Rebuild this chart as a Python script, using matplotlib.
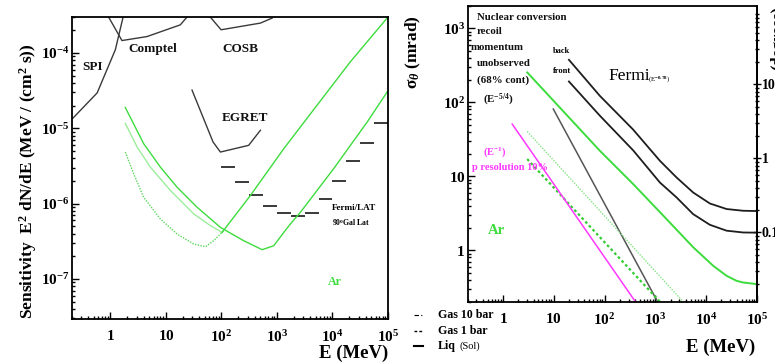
import numpy as np
import matplotlib
matplotlib.use('Agg')
import matplotlib.pyplot as plt
from matplotlib.lines import Line2D
from matplotlib.ticker import FuncFormatter, LogLocator, NullFormatter, FixedLocator

plt.rcParams['font.family'] = ['Liberation Serif', 'DejaVu Serif']
plt.rcParams['font.weight'] = 'bold'
plt.rcParams['mathtext.fontset'] = 'custom'
plt.rcParams['mathtext.rm'] = 'Liberation Serif:bold'
plt.rcParams['mathtext.bf'] = 'Liberation Serif:bold'
plt.rcParams['mathtext.it'] = 'Liberation Serif:italic:bold'

GREEN = '#3ddc3d'
LIGHT_GREEN = '#9bee9b'
DOT_GREEN = '#5ad85a'
MAGENTA = '#ff38ff'
DARK = '#2a2a2a'

# ── Left panel: sensitivity (E in MeV, E^2 dN/dE in MeV/cm^2/s) ──────────────
spi_E = [0.21, 0.58, 1.23, 1.7]
spi_S = [1.35e-5, 2.95e-5, 1.10e-4, 3.0e-4]
comptel_E = [0.93, 1.62, 4.58, 18.2, 24.1]
comptel_S = [3.0e-4, 1.46e-4, 1.65e-4, 2.36e-4, 3.0e-4]
cosb_E = [63, 98.7, 504, 819]
cosb_S = [3.0e-4, 2.03e-4, 2.49e-4, 2.90e-4]
egret_E = [29.6, 70.8, 96, 310, 504]
egret_S = [3.21e-5, 6.56e-6, 4.83e-6, 5.93e-6, 9.40e-6]

lat_edges = [100, 178, 316, 562, 1000, 1780, 3160, 5620,
             10000, 17800, 31600, 56200, 100000]
lat_S = [3.02e-6, 1.91e-6, 1.30e-6, 9.20e-7, 7.43e-7, 6.92e-7,
         7.43e-7, 1.16e-6, 1.98e-6, 3.63e-6, 6.37e-6, 1.16e-5]

liq_E = [1.86, 3.98, 7.96, 15.9, 36.5, 96, 252, 541, 875, 1330, 1750,
         2650, 10500, 42200, 100000]
liq_S = [1.89e-5, 6.25e-6, 3.05e-6, 1.65e-6, 8.93e-7, 4.83e-7, 3.21e-7,
         2.44e-7, 2.75e-7, 4.14e-7, 5.37e-7, 7.66e-7, 2.90e-6, 1.21e-5, 3.15e-5]

gas10_E = [1.86, 3.03, 5.26, 12.1, 31.7, 63.4, 103]
gas10_S = [1.16e-5, 5.64e-6, 3.05e-6, 1.49e-6, 7.30e-7, 5.09e-7, 4.14e-7]

gas1_E = [1.86, 2.63, 3.98, 7.96, 15.9, 31.7, 51.5, 72.6, 110]
gas1_S = [4.83e-6, 2.49e-6, 1.21e-6, 6.25e-7, 3.94e-7, 2.90e-7, 2.67e-7,
          3.21e-7, 4.37e-7]

gas_hi_E = [103, 333, 1330, 5300, 21100, 100000]
gas_hi_S = [4.14e-7, 1.28e-6, 5.36e-6, 2.03e-5, 7.66e-5, 3.0e-4]

# ── Right panel: angular resolution sigma_theta (mrad) ───────────────────────
back_E = [19.9, 81.1, 367, 1233, 2624, 5572, 11885, 25351, 53703, 100000]
back_sig = [375, 122, 42.7, 16.2, 9.64, 6.04, 4.29, 3.61, 3.42, 3.39]
front_E = back_E
front_sig = [191, 65.8, 22.4, 8.24, 5.18, 3.08, 2.21, 1.84, 1.74, 1.73]
liqr_E = [3.01, 81.1, 367, 1667, 5572, 13800, 25351, 39811, 53703, 100000]
liqr_sig = [253, 22.1, 7.85, 2.64, 1.10, 0.618, 0.452, 0.387, 0.367, 0.349]
recoil_E = [9.8, 1100]
recoil_sig = [81, 0.204]
gas10r_E = [3.0, 3700]
gas10r_sig = [40.3, 0.195]
gas1r_E = [3.0, 1250]
gas1r_sig = [17.1, 0.2]
pres_E = [1.52, 410]
pres_sig = [50.7, 0.2]

deg_ticks = [0.1, 1, 10]
deg_labels = ['0.1', '1', '10']

W, H = 775, 363
fig = plt.figure(figsize=(W / 100, H / 100), dpi=100)


def fx(x):
    return x / W


def fy(y):
    return 1 - y / H


def root_fmt(v, pos):
    e = int(round(np.log10(v)))
    if e == 0:
        return r'$\mathbf{1}$'
    if e == 1:
        return r'$\mathbf{10}$'
    return r'$\mathbf{10^{%d}}$' % e


def root_style(ax):
    ax.set_xscale('log')
    ax.set_yscale('log')
    for s in ax.spines.values():
        s.set_linewidth(1.3)
    for axis in (ax.xaxis, ax.yaxis):
        axis.set_major_locator(LogLocator(base=10, numticks=15))
        axis.set_minor_locator(LogLocator(base=10, subs=np.arange(2, 10), numticks=15))
        axis.set_minor_formatter(NullFormatter())
        axis.set_major_formatter(FuncFormatter(root_fmt))
    ax.tick_params(which='both', direction='in', top=False, right=False, width=1.0,
                   labelsize=11)
    ax.tick_params(which='major', length=5)
    ax.tick_params(which='minor', length=2.5)
    ax.tick_params(axis='x', pad=7)
    ax.tick_params(axis='y', pad=1.5)


# ═════════════════════════════════════════════════════════════════════════════
# Left panel
# ═════════════════════════════════════════════════════════════════════════════
ax1 = fig.add_axes([fx(71.5), fy(319), (388 - 71.5) / W, (319 - 17) / H])
root_style(ax1)
ax1.set_xlim(0.2, 1e5)
ax1.set_ylim(2.93e-8, 3.0e-4)

for E, S in [(spi_E, spi_S), (comptel_E, comptel_S), (cosb_E, cosb_S), (egret_E, egret_S)]:
    ax1.plot(E, S, color='#3a3a3a', lw=1.0)
ax1.hlines(lat_S, lat_edges[:-1], lat_edges[1:], color=DARK, lw=1.3)

ax1.plot(liq_E, liq_S, color=GREEN, lw=1.0)
ax1.plot(gas10_E, gas10_S, color=LIGHT_GREEN, lw=1.0)
ax1.plot(gas1_E, gas1_S, color=DOT_GREEN, lw=1.0, ls=(0, (1, 1)))
ax1.plot(gas_hi_E, gas_hi_S, color=GREEN, lw=1.0)

txt = dict(fontsize=9.5, fontweight='bold', ha='left', va='center', color='#111111')
fig.text(fx(82), fy(67), 'SPI', **txt)
fig.text(fx(128), fy(49), 'Comptel', **txt)
fig.text(fx(222), fy(49), 'COSB', **txt)
fig.text(fx(222), fy(118), 'EGRET', **txt)
fig.text(fx(332), fy(208), 'Fermi/LAT', fontsize=6.6, fontweight='bold', ha='left', va='center')
fig.text(fx(332), fy(223), r'90$^{0}$Gal Lat', fontsize=5.6, fontweight='bold', ha='left', va='center')
fig.text(fx(328), fy(282), 'Ar', fontsize=8.6, fontweight='bold', color=GREEN, ha='left', va='center')

fig.text(fx(28), fy(181), r'Sensitivity  E$^{2}$ dN/dE (MeV / (cm$^{2}$ s))',
         rotation=90, fontsize=12.5, fontweight='bold', ha='center', va='center')
fig.text(fx(388), fy(353), 'E (MeV)', fontsize=13.5, fontweight='bold', ha='right', va='center')

# ═════════════════════════════════════════════════════════════════════════════
# Right panel
# ═════════════════════════════════════════════════════════════════════════════
ax2 = fig.add_axes([fx(467.5), fy(302), (756.8 - 467.5) / W, (302 - 6) / H])
root_style(ax2)
ax2.set_xlim(0.2, 1e5)
ax2.set_ylim(0.2, 2000)

ax2.plot(back_E, back_sig, color='#1e1e1e', lw=1.3)
ax2.plot(front_E, front_sig, color='#1e1e1e', lw=1.3)
ax2.plot(liqr_E, liqr_sig, color=GREEN, lw=1.4)
ax2.plot(recoil_E, recoil_sig, color='#555555', lw=1.1)
ax2.plot(gas10r_E, gas10r_sig, color='#86e486', lw=1.0, ls=(0, (1, 1)))
ax2.plot(gas1r_E, gas1r_sig, color='#33cc33', lw=1.6, ls=(0, (1.2, 1.2)))
ax2.plot(pres_E, pres_sig, color=MAGENTA, lw=1.1)

# degrees scale on the right (cut by the picture edge, as in the original)
sec = ax2.secondary_yaxis('right', functions=(lambda m: m * 180 / (np.pi * 1000),
                                              lambda d: d * np.pi * 1000 / 180))
sec.yaxis.set_major_locator(FixedLocator(deg_ticks))
sec.yaxis.set_minor_locator(LogLocator(base=10, subs=np.arange(2, 10), numticks=15))
sec.yaxis.set_major_formatter(FuncFormatter(lambda v, p: deg_labels[deg_ticks.index(v)]
                                            if v in deg_ticks else ''))
sec.yaxis.set_minor_formatter(NullFormatter())
sec.tick_params(which='both', direction='inout', width=1.0, labelsize=10, pad=0.5)
sec.tick_params(which='major', length=6)
sec.tick_params(which='minor', length=3)
sec.spines['right'].set_linewidth(1.3)
fig.text(fx(778), fy(38), '(degrees)', rotation=90, fontsize=12, fontweight='bold',
         ha='center', va='center')

rt = dict(fontsize=7.8, fontweight='bold', ha='left', va='center', color='#111111')
fig.text(fx(477), fy(17), 'Nuclear conversion', **rt)
fig.text(fx(477), fy(32), 'recoil', **rt)
fig.text(fx(471), fy(48), 'momentum', **rt)
fig.text(fx(477), fy(64), 'unobserved', **rt)
fig.text(fx(477), fy(80), '(68% cont)', **rt)
fig.text(fx(483), fy(100), r'(E$^{-5/4}$)', **rt)
fig.text(fx(553), fy(51), 'back', fontsize=6, fontweight='bold', ha='left', va='center')
fig.text(fx(553), fy(71), 'front', fontsize=6, fontweight='bold', ha='left', va='center')
fig.text(fx(608), fy(76), 'Fermi', fontsize=12.5, fontweight='normal', ha='left', va='center')
fig.text(fx(648), fy(79), r'(E$^{-0.78}$)', fontsize=5, fontweight='normal', ha='left', va='center')
fig.text(fx(483), fy(152), r'(E$^{-1}$)', fontsize=7.5, fontweight='bold', color=MAGENTA,
         ha='left', va='center')
fig.text(fx(472), fy(167), 'p resolution 10%', fontsize=7.5, fontweight='bold', color=MAGENTA,
         ha='left', va='center')
fig.text(fx(488), fy(230), 'Ar', fontsize=10.5, fontweight='bold', color=GREEN,
         ha='left', va='center')

fig.text(fx(413), fy(52), r'σ$_{\theta}$ (mrad)', rotation=90, fontsize=12.5,
         fontweight='bold', ha='center', va='center')
fig.text(fx(755), fy(347), 'E (MeV)', fontsize=13.5, fontweight='bold', ha='right', va='center')

# legend drawn under the right panel
leg_rows = [(315, 'Gas 10 bar', (0, (4, 2, 1, 2)), 0.8),
            (331, 'Gas 1 bar', (0, (2, 1.5)), 1.0),
            (346, 'Liq', '-', 1.5)]
for y, label, ls, lw in leg_rows:
    fig.add_artist(Line2D([fx(414), fx(423)], [fy(y), fy(y)], color='black', lw=lw, ls=ls))
    fig.text(fx(438), fy(y), label, fontsize=8.6, fontweight='bold', ha='left', va='center')
fig.text(fx(459), fy(346), '(Sol)', fontsize=7.5, fontweight='normal', ha='left', va='center')

plt.savefig('out.png', dpi=100)
plt.close()
